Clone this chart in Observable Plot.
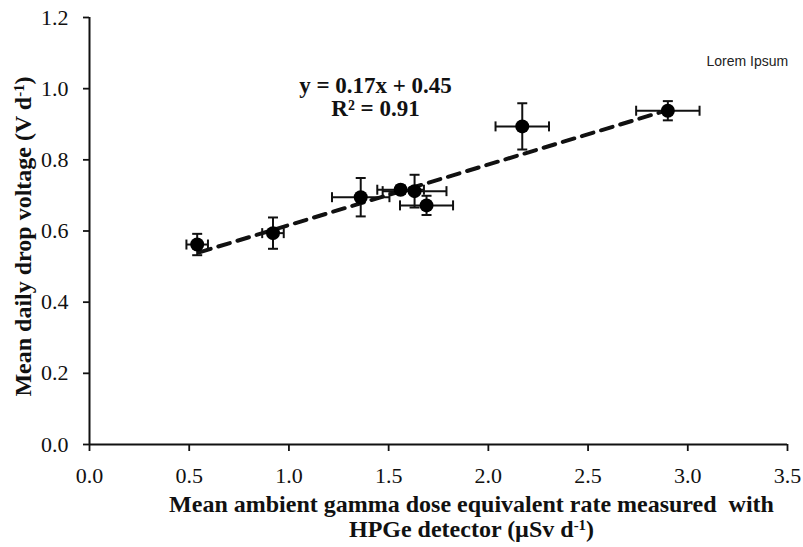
<!DOCTYPE html>
<html>
<head>
<meta charset="utf-8">
<script src="https://cdn.jsdelivr.net/npm/d3@7"></script>
<script src="https://cdn.jsdelivr.net/npm/@observablehq/plot@0.6"></script>
<style>
  html, body { margin: 0; padding: 0; background: #fff; }
  #chart { width: 803px; height: 547px; }
</style>
</head>
<body>
<div id="chart"></div>
<script>
// Data
const doseRate = [0.54, 0.92, 1.36, 1.56, 1.63, 1.69, 2.17, 2.90];
const dropVoltage = [0.562, 0.594, 0.695, 0.716, 0.712, 0.672, 0.894, 0.938];
const doseErr = [0.054, 0.054, 0.144, 0.117, 0.160, 0.133, 0.134, 0.159];
const voltErr = [0.030, 0.044, 0.054, 0.012, 0.046, 0.027, 0.065, 0.027];
const fitX = [0.55, 2.90];
const fitY = [0.54, 0.94];
const xTicks = [0, 0.5, 1.0, 1.5, 2.0, 2.5, 3.0, 3.5];
const yTicks = [0, 0.2, 0.4, 0.6, 0.8, 1.0, 1.2];
const equationLines = ["y = 0.17x + 0.45", "R² = 0.91"];
const xTitleLines = ["Mean ambient gamma dose equivalent rate measured  with", "HPGe detector (µSv d⁻¹)"];
const yTitle = "Mean daily drop voltage (V d⁻¹)";
const legendText = "Lorem Ipsum";

const points = doseRate.map((x, i) => ({x, y: dropVoltage[i], xe: doseErr[i], ye: voltErr[i]}));
const fit = fitX.map((x, i) => ({x, y: fitY[i]}));

// cap symbols for error bars
const vBar = {draw(ctx, size) { const r = Math.sqrt(size / Math.PI); ctx.moveTo(0, -r); ctx.lineTo(0, r); }};
const hBar = {draw(ctx, size) { const r = Math.sqrt(size / Math.PI); ctx.moveTo(-r, 0); ctx.lineTo(r, 0); }};

const serif = "Liberation Serif, Times New Roman, serif";
const fmt = d3.format(".1f");

const plot = Plot.plot({
  width: 803,
  height: 547,
  marginTop: 17,
  marginRight: 16,
  marginBottom: 103,
  marginLeft: 89,
  style: {fontFamily: serif, fontSize: "22px", color: "#111", background: "#fff"},
  x: {domain: [0, 3.5]},
  y: {domain: [0, 1.2]},
  marks: [
    Plot.axisX({ticks: xTicks, tickFormat: fmt, tickSize: 7, tickPadding: 16, strokeWidth: 1.8, label: null, fontSize: 22}),
    Plot.axisY({ticks: yTicks, tickFormat: fmt, tickSize: 6, tickPadding: 15, strokeWidth: 1.8, label: null, fontSize: 22}),
    Plot.ruleX([0], {stroke: "#111", strokeWidth: 2}),
    Plot.ruleY([0], {stroke: "#111", strokeWidth: 2}),
    // horizontal error bars
    Plot.link(points, {x1: d => d.x - d.xe, x2: d => d.x + d.xe, y1: "y", y2: "y", stroke: "#111", strokeWidth: 2}),
    Plot.dot(points, {x: d => d.x - d.xe, y: "y", symbol: vBar, r: 5, stroke: "#111", fill: "none", strokeWidth: 2}),
    Plot.dot(points, {x: d => d.x + d.xe, y: "y", symbol: vBar, r: 5, stroke: "#111", fill: "none", strokeWidth: 2}),
    // vertical error bars
    Plot.link(points, {x1: "x", x2: "x", y1: d => d.y - d.ye, y2: d => d.y + d.ye, stroke: "#111", strokeWidth: 2}),
    Plot.dot(points, {x: "x", y: d => d.y - d.ye, symbol: hBar, r: 5, stroke: "#111", fill: "none", strokeWidth: 2}),
    Plot.dot(points, {x: "x", y: d => d.y + d.ye, symbol: hBar, r: 5, stroke: "#111", fill: "none", strokeWidth: 2}),
    // trend line
    Plot.line(fit, {x: "x", y: "y", stroke: "#111", strokeWidth: 4, strokeDasharray: "12,8"}),
    // points
    Plot.dot(points, {x: "x", y: "y", r: 7, fill: "#000", stroke: "none"}),
    // equation
    Plot.text([equationLines[0]], {frameAnchor: "top", text: d => d, dx: -63, dy: 68.5, fontSize: 23, fontWeight: "bold", fill: "#111", lineAnchor: "middle"}),
    Plot.text([equationLines[1]], {frameAnchor: "top", text: d => d, dx: -63, dy: 91, fontSize: 23, fontWeight: "bold", fill: "#111", lineAnchor: "middle"}),
    // legend-like label
    Plot.text([legendText], {frameAnchor: "top-right", text: d => d, textAnchor: "start", dx: -81, dy: 44, fontSize: 14, fontFamily: "Liberation Sans, Arial, sans-serif", fill: "#222", lineAnchor: "middle"}),
    // axis titles
    Plot.text([xTitleLines[0]], {frameAnchor: "bottom", text: d => d, textAnchor: "middle", dx: 33, dy: 60, fontSize: 24, fontWeight: "bold", fill: "#111", lineAnchor: "middle"}),
    Plot.text([xTitleLines[1]], {frameAnchor: "bottom", text: d => d, textAnchor: "middle", dx: 33, dy: 85, fontSize: 24, fontWeight: "bold", fill: "#111", lineAnchor: "middle"}),
    Plot.text([yTitle], {frameAnchor: "left", text: d => d, textAnchor: "middle", rotate: -90, dx: -66, dy: 5.5, fontSize: 24, fontWeight: "bold", fill: "#111", lineAnchor: "middle"})
  ]
});

// render superscripts as proper tspans
d3.select(plot).selectAll("text").each(function() {
  const t = this.textContent;
  if (this.querySelector("tspan") || !t.includes("⁻¹")) return;
  const [a, b] = t.split("⁻¹");
  const sel = d3.select(this);
  sel.text(null);
  sel.append("tspan").text(a);
  sel.append("tspan").attr("dy", "-0.45em").attr("font-size", "0.62em").text("-1");
  sel.append("tspan").attr("dy", "0.28em").text(b);
});

document.getElementById("chart").appendChild(plot);
</script>
</body>
</html>
